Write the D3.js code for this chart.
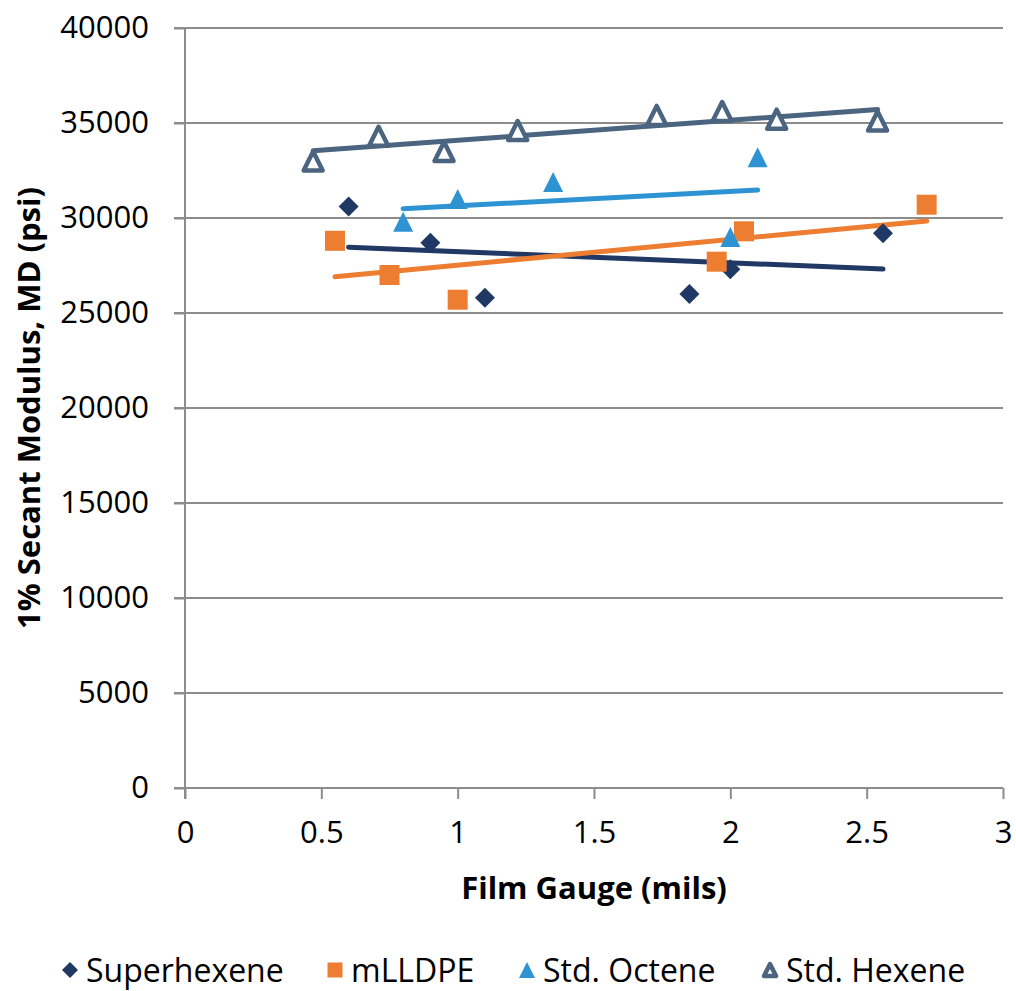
<!DOCTYPE html>
<meta charset="utf-8">
<head>
<style>
body { margin: 0; background: #fff; }
text { font-family: "Open Sans", sans-serif; fill: #000; }
.tick text { font-size: 31px; }
.axis-title { font-size: 31px; font-weight: bold; }
.legend text { font-size: 32px; }
</style>
<script src="https://d3js.org/d3.v7.min.js"></script>
</head>
<body>
<svg width="1016" height="991"></svg>
<script>

// data
var seriesNames = ["Superhexene", "mLLDPE", "Std. Octene", "Std. Hexene"];
var colors = ["#203864", "#ED7D31", "#2E93D3", "#4B6480"];

var superhexeneX = [0.6, 0.9, 1.1, 1.85, 2.0, 2.56];
var superhexeneY = [30600, 28700, 25800, 26000, 27300, 29200];

var mlldpeX = [0.55, 0.75, 1.0, 1.95, 2.05, 2.72];
var mlldpeY = [28800, 27000, 25700, 27700, 29300, 30700];

var octeneX = [0.8, 1.0, 1.35, 2.0, 2.1];
var octeneY = [29800, 31000, 31900, 29000, 33200];

var hexeneX = [0.47, 0.71, 0.95, 1.22, 1.73, 1.97, 2.17, 2.54];
var hexeneY = [33000, 34300, 33500, 34600, 35400, 35600, 35200, 35100];

var xTicks = [0, 0.5, 1, 1.5, 2, 2.5, 3];
var yTicks = [0, 5000, 10000, 15000, 20000, 25000, 30000, 35000, 40000];

var series = [
  { name: seriesNames[0], xs: superhexeneX, ys: superhexeneY, color: colors[0], shape: "diamond" },
  { name: seriesNames[1], xs: mlldpeX, ys: mlldpeY, color: colors[1], shape: "square" },
  { name: seriesNames[2], xs: octeneX, ys: octeneY, color: colors[2], shape: "triangle" },
  { name: seriesNames[3], xs: hexeneX, ys: hexeneY, color: colors[3], shape: "opentri" }
];

var svg = d3.select("svg"),
    plotLeft = 185, plotRight = 1003, plotTop = 28, plotBottom = 788;

var x = d3.scaleLinear().domain([0, 3]).range([plotLeft, plotRight]);
var y = d3.scaleLinear().domain([0, 40000]).range([plotBottom, plotTop]);

var grid = "#8c8c8c";

// gridlines
svg.append("g")
  .selectAll("line")
  .data(yTicks)
  .enter().append("line")
    .attr("x1", plotLeft - 11).attr("x2", plotRight)
    .attr("y1", function(d) { return y(d); })
    .attr("y2", function(d) { return y(d); })
    .attr("stroke", grid).attr("stroke-width", 2);

// y axis
var yAxis = svg.append("g")
  .attr("transform", "translate(" + plotLeft + ",0)")
  .call(d3.axisLeft(y).tickValues(yTicks).tickSize(11).tickPadding(25).tickFormat(d3.format("d")));
yAxis.selectAll("line, path").attr("stroke", grid).attr("stroke-width", 2);
yAxis.select(".domain").attr("d", "M0," + plotTop + "V" + (plotBottom + 11));

// x axis
var xAxis = svg.append("g")
  .attr("transform", "translate(0," + plotBottom + ")")
  .call(d3.axisBottom(x).tickValues(xTicks).tickSize(11).tickPadding(16).tickFormat(d3.format("")));
xAxis.selectAll("line, path").attr("stroke", grid).attr("stroke-width", 2);
xAxis.select(".domain").attr("d", "M" + (plotLeft - 11) + ",0H" + plotRight);
xAxis.selectAll("text").attr("dy", "0.9em");

svg.selectAll(".tick text").attr("fill", "#000");

// trendlines (least squares)
function fit(xs, ys) {
  var mx = d3.mean(xs), my = d3.mean(ys), sxy = 0, sxx = 0;
  xs.forEach(function(v, i) { sxy += (v - mx) * (ys[i] - my); sxx += (v - mx) * (v - mx); });
  var b = sxy / sxx;
  return function(v) { return my + b * (v - mx); };
}

series.forEach(function(s) {
  var f = fit(s.xs, s.ys);
  var x0 = d3.min(s.xs), x1 = d3.max(s.xs);
  svg.append("line")
    .attr("x1", x(x0)).attr("y1", y(f(x0)))
    .attr("x2", x(x1)).attr("y2", y(f(x1)))
    .attr("stroke", s.color).attr("stroke-width", 5)
    .attr("stroke-linecap", "round");
});

// markers
function marker(g, shape, color, size) {
  var h = size / 2;
  if (shape === "diamond") {
    g.append("path").attr("d", "M0," + (-h) + "L" + h + ",0L0," + h + "L" + (-h) + ",0Z")
      .attr("fill", color);
  } else if (shape === "square") {
    g.append("rect").attr("x", -h).attr("y", -h).attr("width", size).attr("height", size)
      .attr("fill", color);
  } else if (shape === "triangle") {
    g.append("path").attr("d", "M0," + (-h) + "L" + h + "," + h + "L" + (-h) + "," + h + "Z")
      .attr("fill", color);
  } else {
    var k = h - 2;
    g.append("path").attr("d", "M0," + (-k) + "L" + k + "," + k + "L" + (-k) + "," + k + "Z")
      .attr("fill", "#fff").attr("stroke", color).attr("stroke-width", 4.5)
      .attr("stroke-linejoin", "round");
  }
}

series.forEach(function(s) {
  var g = svg.append("g");
  s.xs.forEach(function(v, i) {
    var m = g.append("g").attr("transform", "translate(" + x(v) + "," + y(s.ys[i]) + ")");
    marker(m, s.shape, s.color, s.shape === "opentri" ? 23 : 20);
  });
});

// axis titles
svg.append("text")
  .attr("class", "axis-title")
  .attr("x", 594)
  .attr("y", 899)
  .attr("text-anchor", "middle")
  .text("Film Gauge (mils)");

svg.append("text")
  .attr("class", "axis-title")
  .attr("transform", "translate(40," + ((plotTop + plotBottom) / 2) + ") rotate(-90)")
  .attr("text-anchor", "middle")
  .text("1% Secant Modulus, MD (psi)");

// legend
var legendX = [70, 335, 527, 770];
var legend = svg.append("g").attr("class", "legend");
series.forEach(function(s, i) {
  var g = legend.append("g").attr("transform", "translate(" + legendX[i] + ",970)");
  marker(g, s.shape, s.color, s.shape === "square" ? 15 : 16);
  g.append("text").attr("x", 16).attr("dy", "0.36em").text(s.name);
});

</script>
</body>
